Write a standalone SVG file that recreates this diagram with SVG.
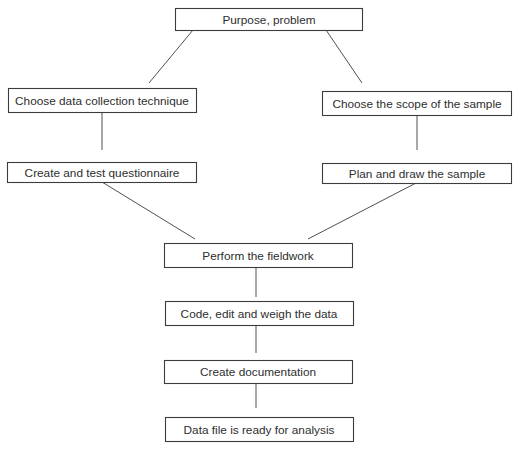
<svg xmlns="http://www.w3.org/2000/svg" width="519" height="451" viewBox="0 0 519 451">
  <style>
    .box rect { fill: #ffffff; stroke: #3c3c3c; stroke-width: 1.1; }
    .box text { font-family: "Liberation Sans", Arial, sans-serif; font-size: 11.8px; fill: #2e2e2e; text-anchor: middle; }
    #connectors line { stroke: #505050; stroke-width: 1; }
  </style>
  <rect width="519" height="451" fill="#ffffff"/>

  <g id="connectors">
    <line x1="193" y1="30" x2="149" y2="83"/>
    <line x1="326" y1="30" x2="362" y2="83"/>
    <line x1="102" y1="112" x2="102" y2="150"/>
    <line x1="417" y1="115" x2="417" y2="150"/>
    <line x1="102" y1="182" x2="195" y2="239"/>
    <line x1="416" y1="183" x2="308" y2="239"/>
    <line x1="256" y1="267" x2="256" y2="297"/>
    <line x1="256" y1="325" x2="256" y2="353"/>
    <line x1="256" y1="383" x2="256" y2="408"/>
  </g>

  <g id="purpose" class="box">
    <rect x="175.5" y="8.5" width="187" height="22"/>
    <text x="269" y="23.5">Purpose, problem</text>
  </g>
  <g id="technique" class="box">
    <rect x="8.5" y="88.5" width="188" height="24"/>
    <text x="102" y="104.5">Choose data collection technique</text>
  </g>
  <g id="scope" class="box">
    <rect x="322.5" y="91.5" width="189" height="24"/>
    <text x="417" y="107.5">Choose the scope of the sample</text>
  </g>
  <g id="questionnaire" class="box">
    <rect x="7.5" y="162.5" width="189" height="20"/>
    <text x="102" y="176.5">Create and test questionnaire</text>
  </g>
  <g id="sample" class="box">
    <rect x="322.5" y="163.5" width="189" height="20"/>
    <text x="417" y="177.5">Plan and draw the sample</text>
  </g>
  <g id="fieldwork" class="box">
    <rect x="164.5" y="243.5" width="188" height="24"/>
    <text x="258" y="259.5">Perform the fieldwork</text>
  </g>
  <g id="code" class="box">
    <rect x="165.5" y="301.5" width="188" height="24"/>
    <text x="259" y="317.5">Code, edit and weigh the data</text>
  </g>
  <g id="documentation" class="box">
    <rect x="164.5" y="360.5" width="188" height="23"/>
    <text x="258" y="375.5">Create documentation</text>
  </g>
  <g id="datafile" class="box">
    <rect x="165.5" y="417.5" width="188" height="24"/>
    <text x="259" y="433.5">Data file is ready for analysis</text>
  </g>
</svg>
